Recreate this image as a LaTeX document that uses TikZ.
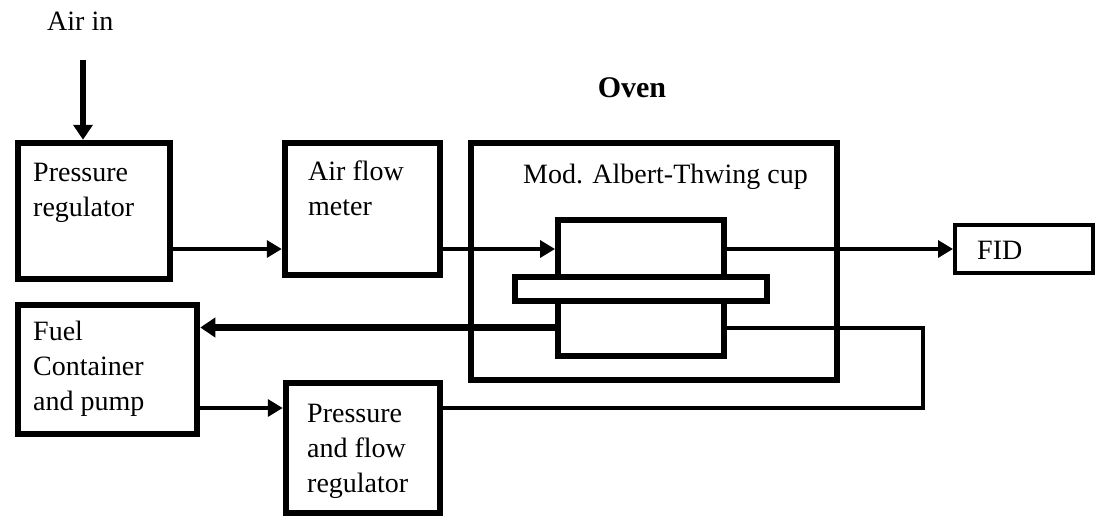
\documentclass[tikz,border=0pt]{standalone}
\usepackage{fontspec}
\setmainfont{Liberation Serif}
\usetikzlibrary{arrows.meta, positioning}

\tikzset{
  blk/.style={draw, line width=6.5pt, inner sep=0pt},
  flow/.style={line width=3.5pt, -{Triangle[length=15pt, width=17pt]}},
  feed/.style={line width=6.5pt, -{Triangle[length=15pt, width=19pt]}},
  pipe/.style={line width=4pt},
  lbl/.style={anchor=north west, align=left, inner sep=0pt, font=\fontsize{28}{35}\selectfont}
}

\begin{document}
\begin{tikzpicture}[x=1pt, y=-1pt]
  \useasboundingbox (0,0) rectangle (1101,517);
  \node[blk, minimum width=152pt, minimum height=136pt] (preg) at (94,211) {};
  \node[blk, minimum width=155pt, minimum height=132pt] (afm) at (362.5,209) {};
  \node[blk, line width=6pt, minimum width=366pt, minimum height=237pt] (oven) at (654,261.5) {};
  \node[blk, line width=6pt, minimum width=166pt, minimum height=58pt] (cupt) at (641,249) {};
  \node[blk, line width=6pt, minimum width=166pt, minimum height=57pt] (cupb) at (641,327.5) {};
  \node[blk, line width=6pt, fill=white, minimum width=252pt, minimum height=24pt] (flange) at (641,289) {};
  \node[blk, line width=4pt, minimum width=138pt, minimum height=48pt] (fid) at (1024,249) {};
  \node[blk, minimum width=179pt, minimum height=129pt] (fuel) at (107.5,369.5) {};
  \node[blk, minimum width=154pt, minimum height=130pt] (pfr) at (363,448) {};

  \node[lbl] (airtxt) at (47,12) {Air in};
  \node[anchor=base, inner sep=0pt, font=\fontsize{30}{36}\selectfont\bfseries] (oventxt) at (632,97) {Oven};
  \node[lbl] (cuptxt) at (523,164) {Mod. Albert-Thwing cup};
  \node[lbl] (pregtxt) at (33,163) {Pressure\\regulator};
  \node[lbl] (afmtxt) at (308,161) {Air flow\\meter};
  \node[lbl] (fueltxt) at (33,321) {Fuel\\Container\\and pump};
  \node[lbl] (pfrtxt) at (307,404) {Pressure\\and flow\\regulator};
  \node[lbl] (fidtxt) at (977,241) {FID};

  \coordinate (airin) at (83,60);
  \coordinate (loop) at (923,408);
  \draw[feed] (airin) -- (airin |- preg.north);
  \draw[flow] (preg.east |- cupt.west) -- (afm.west |- cupt.west);
  \draw[flow] (afm.east |- cupt.west) -- (cupt.west);
  \draw[flow] (cupt.east) -- (fid.west |- cupt.east);
  \draw[feed] (cupb.west) -- (fuel.east |- cupb.west);
  \draw[pipe] (cupb.east) -| (loop) -- (pfr.east |- loop);
  \draw[flow] (fuel.east |- loop) -- (pfr.west |- loop);
\end{tikzpicture}
\end{document}
